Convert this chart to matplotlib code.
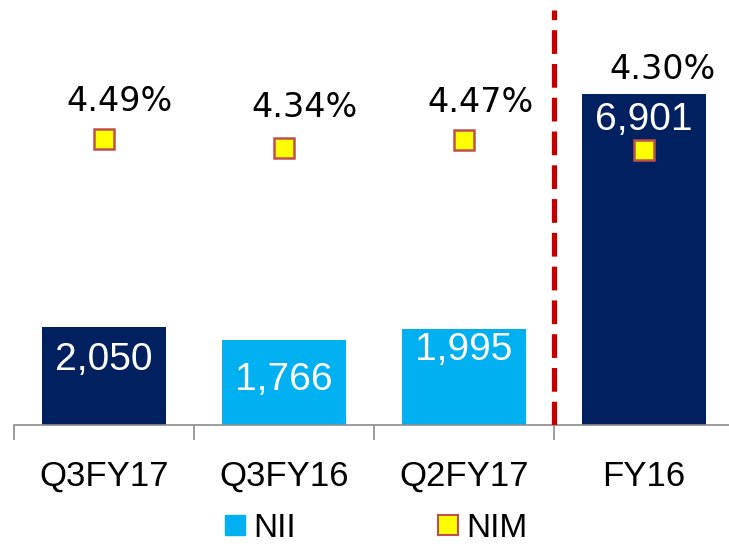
import matplotlib
matplotlib.use('Agg')
import matplotlib.pyplot as plt
from matplotlib.lines import Line2D

# datos
categorias = ['Q3FY17', 'Q3FY16', 'Q2FY17', 'FY16']
nii = [2050, 1766, 1995, 6901]
nim = [4.49, 4.34, 4.47, 4.30]
etiquetas_nim = ['4.49%', '4.34%', '4.47%', '4.30%']

azul_osc = '#002060'
azul_cla = '#00b0f0'
colores = [azul_osc, azul_cla, azul_cla, azul_osc]
estrecha = ['Liberation Sans', 'DejaVu Sans']

fig = plt.figure(figsize=(7.29, 5.46), dpi=100)
ax = fig.add_axes([14 / 729, 1 - 425 / 546, 720 / 729, 415 / 546])
x = list(range(len(categorias)))
barras = ax.bar(x, nii, width=0.69, color=colores, zorder=2)
ax.set_xlim(-0.5, 3.5)
ax.set_ylim(0, 8650)

# etiquetas de valor dentro de las barras (posicion vertical a mano)
y_valor = [1350, 940, 1560, 6350]
for xi, v, yv in zip(x, nii, y_valor):
    ax.text(xi, yv, f'{v:,}', color='white', ha='center', va='center',
            fontsize=28, family=estrecha, zorder=3)

# ejes
for lado in ['top', 'right', 'left']:
    ax.spines[lado].set_visible(False)
ax.spines['bottom'].set_color('#8c8c8c')
ax.spines['bottom'].set_linewidth(1.2)
ax.set_yticks([])
ax.set_xticks(x)
ax.set_xticklabels(categorias, fontsize=25, family=estrecha)
ax.tick_params(axis='x', which='major', length=0, pad=25)
ax.set_xticks([-0.5, 0.5, 1.5, 2.5], minor=True)
ax.tick_params(axis='x', which='minor', length=11, width=1.2, color='#8c8c8c')

# linea roja discontinua
ax.axvline(2.5, color='#c00000', lw=3.8, dashes=(4.5, 1.9), zorder=4)

# NIM en eje secundario
ax2 = ax.twinx()
ax2.set_ylim(-0.44, 6.72)
ax2.set_yticks([])
for lado in ['top', 'right', 'left', 'bottom']:
    ax2.spines[lado].set_visible(False)
ax2.plot(x, nim, linestyle='none', marker='s', markersize=14,
         markerfacecolor='#ffff00', markeredgecolor='#c0504d',
         markeredgewidth=1.8, zorder=5)
desp = [(11, 27), (15, 29), (12, 27), (13, 58)]
for xi, v, t, d in zip(x, nim, etiquetas_nim, desp):
    ax2.annotate(t, (xi, v), xytext=d, textcoords='offset points',
                 ha='center', va='center', fontsize=24)

# leyenda
h1 = Line2D([], [], linestyle='none', marker='s', markersize=15,
            markerfacecolor=azul_cla, markeredgecolor=azul_cla)
h2 = Line2D([], [], linestyle='none', marker='s', markersize=15,
            markerfacecolor='#ffff00', markeredgecolor='#c0504d', markeredgewidth=1.5)
fig.legend([h1, h2], ['NII', 'NIM'], loc='center', bbox_to_anchor=(0.515, 0.032),
           ncol=2, frameon=False, handlelength=0.7, handletextpad=0.2,
           columnspacing=4.2, prop={'family': estrecha, 'size': 24})

fig.savefig('out.png', dpi=100)
